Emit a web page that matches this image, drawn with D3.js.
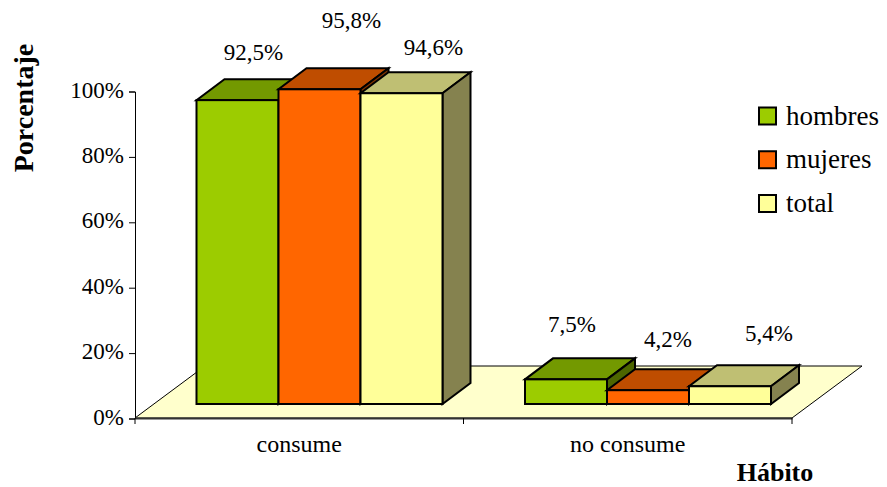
<!DOCTYPE html>
<html>
<head>
<meta charset="utf-8">
<script src="https://cdn.jsdelivr.net/npm/d3@7"></script>
<style>
  html, body { margin: 0; background: #fff; }
  text { font-family: "Liberation Serif", serif; fill: #000; }
</style>
</head>
<body>
<div id="chart"></div>
<script>
const categories = ["consume", "no consume"];
const seriesNames = ["hombres", "mujeres", "total"];
const hombres = [92.5, 7.5];
const mujeres = [95.8, 4.2];
const total = [94.6, 5.4];
const valueLabels = [["92,5%", "7,5%"], ["95,8%", "4,2%"], ["94,6%", "5,4%"]];
const yTicks = [0, 20, 40, 60, 80, 100];
const seriesValues = [hombres, mujeres, total];

const frontColors = ["#9ccc00", "#ff6600", "#ffff99"];
const topColors = ["#739900", "#bf4d00", "#bfbf73"];
const sideColors = ["#4d6600", "#803300", "#85824f"];

// data labels were placed by hand, offsets from the middle of each bar's top edge
const labelOffsets = [
  [[16, -40], [6, -47]],
  [[32, -61], [20, -43]],
  [[32, -38], [39, -45]],
];

const width = 887;
const height = 487;
const fontSize = 23;

const svg = d3.select("#chart").append("svg")
  .attr("width", width)
  .attr("height", height)
  .style("display", "block");

// axis plane and oblique depth of the floor
const x = d3.scaleBand().domain(categories).range([135, 792]);
const y = d3.scaleLinear().domain([0, 100]).range([418.5, 91.5]);
const floorY = 418;
const floorDepth = [70, -52];

// the bars sit a little behind the front edge of the floor
const barY = d3.scaleLinear().domain([0, 100]).range([404, 75.5]);
const barX = d3.scaleBand().domain(seriesNames).range([0, 246]);
const barOffset = 61.5;
const barDepth = [28, -21];

const poly = (pts) => pts.map((p) => p.join(",")).join(" ");

// floor
svg.append("polygon")
  .attr("points", poly([
    [x.range()[0], floorY],
    [x.range()[1], floorY],
    [x.range()[1] + floorDepth[0], floorY + floorDepth[1]],
    [x.range()[0] + floorDepth[0], floorY + floorDepth[1]],
  ]))
  .attr("fill", "#ffffcc")
  .attr("stroke", "#000")
  .attr("stroke-width", 1);

// axes
const yAxis = d3.axisLeft(y)
  .tickValues(yTicks)
  .tickSize(6)
  .tickPadding(5)
  .tickFormat((d) => d + "%");
const gy = svg.append("g")
  .attr("transform", `translate(${x.range()[0]},0)`)
  .call(yAxis);
gy.selectAll("text").attr("font-size", fontSize).attr("dy", "0.24em");
gy.selectAll("path, line").attr("stroke", "#000").attr("stroke-width", 1);

const xAxis = d3.axisBottom(x).tickSize(0).tickPadding(17);
const gx = svg.append("g")
  .attr("transform", `translate(0,${floorY})`)
  .call(xAxis);
gx.selectAll("text").attr("font-size", 24);
gx.select("path").attr("stroke", "#333").attr("stroke-width", 2);

// category separators, ticks fall between the bands
gx.selectAll(".sep")
  .data([x.range()[0], x(categories[1]), x.range()[1]])
  .enter()
  .append("line")
  .attr("class", "sep")
  .attr("x1", (d) => d)
  .attr("x2", (d) => d)
  .attr("y1", 0)
  .attr("y2", 6)
  .attr("stroke", "#000");

// bars, left to right so that each front covers the neighbour's side
categories.forEach((cat, c) => {
  seriesNames.forEach((name, s) => {
    const v = seriesValues[s][c];
    const x0 = x(cat) + barOffset + barX(name);
    const x1 = x0 + barX.bandwidth();
    const yTop = barY(v);
    const yBase = barY(0);
    const [dx, dy] = barDepth;
    const g = svg.append("g")
      .attr("stroke", "#000")
      .attr("stroke-width", 2)
      .attr("stroke-linejoin", "miter");
    g.append("polygon")
      .attr("points", poly([[x0, yTop], [x1, yTop], [x1 + dx, yTop + dy], [x0 + dx, yTop + dy]]))
      .attr("fill", topColors[s]);
    g.append("polygon")
      .attr("points", poly([[x1, yTop], [x1 + dx, yTop + dy], [x1 + dx, yBase + dy], [x1, yBase]]))
      .attr("fill", sideColors[s]);
    g.append("rect")
      .attr("x", x0)
      .attr("y", yTop)
      .attr("width", barX.bandwidth())
      .attr("height", yBase - yTop)
      .attr("fill", frontColors[s]);

    svg.append("text")
      .attr("x", (x0 + x1) / 2 + labelOffsets[s][c][0])
      .attr("y", yTop + labelOffsets[s][c][1])
      .attr("text-anchor", "middle")
      .attr("font-size", fontSize)
      .text(valueLabels[s][c]);
  });
});

// legend
const legendY = d3.scalePoint().domain(seriesNames).range([116, 203.5]);
const legend = svg.selectAll(".legend-item")
  .data(seriesNames)
  .enter()
  .append("g")
  .attr("class", "legend-item")
  .attr("transform", (d) => `translate(759,${legendY(d)})`);
legend.append("rect")
  .attr("x", 0)
  .attr("y", -8.5)
  .attr("width", 17)
  .attr("height", 17)
  .attr("fill", (d, i) => frontColors[i])
  .attr("stroke", "#000")
  .attr("stroke-width", 2);
legend.append("text")
  .attr("x", 27)
  .attr("y", 8.5)
  .attr("font-size", 27)
  .text((d) => d);

// axis titles
svg.append("text")
  .attr("transform", "translate(33,108) rotate(-90)")
  .attr("text-anchor", "middle")
  .attr("font-size", 28)
  .attr("font-weight", "bold")
  .text("Porcentaje");
svg.append("text")
  .attr("x", 775)
  .attr("y", 481)
  .attr("text-anchor", "middle")
  .attr("font-size", 26)
  .attr("font-weight", "bold")
  .text("Hábito");
</script>
</body>
</html>
